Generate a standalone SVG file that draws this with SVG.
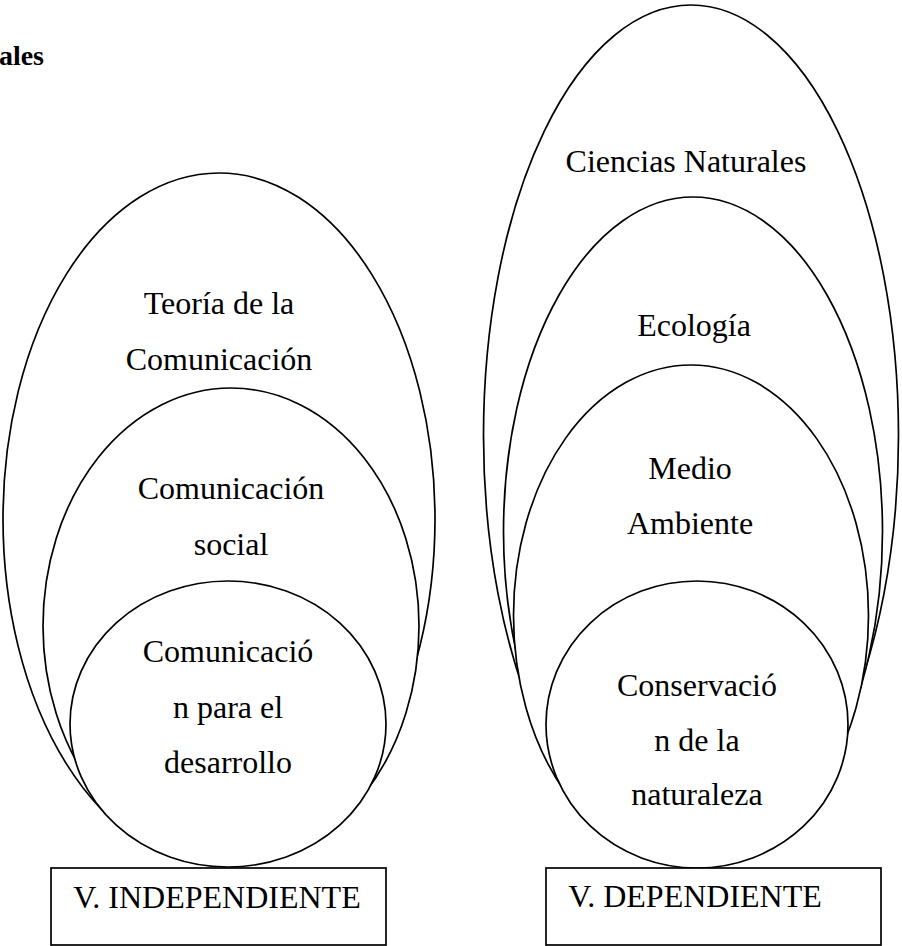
<svg xmlns="http://www.w3.org/2000/svg" width="902" height="946" viewBox="0 0 902 946">
<style>
.sh{fill:#fff;stroke:#000;stroke-width:1.7}
.t{font-family:"Liberation Serif","Times New Roman",serif;font-size:32px;fill:#000;text-anchor:middle}
.b{font-family:"Liberation Serif","Times New Roman",serif;font-size:28px;font-weight:bold;fill:#000;text-anchor:end}
</style>
<rect width="902" height="946" fill="#fff"/>
<text class="b" x="44" y="65">ales</text>
<g id="teoria-comunicacion">
<ellipse class="sh" cx="219" cy="519" rx="216" ry="346"/>
<text class="t" x="219" y="314">Teoría de la</text>
<text class="t" x="219" y="370">Comunicación</text>
</g>
<g id="comunicacion-social">
<ellipse class="sh" cx="231" cy="626" rx="188" ry="238"/>
<text class="t" x="231" y="499">Comunicación</text>
<text class="t" x="231" y="555">social</text>
</g>
<g id="comunicacion-desarrollo">
<ellipse class="sh" cx="228" cy="724" rx="158" ry="143"/>
<text class="t" x="228" y="662">Comunicació</text>
<text class="t" x="228" y="718">n para el</text>
<text class="t" x="228" y="773">desarrollo</text>
</g>
<g id="v-independiente">
<rect class="sh" x="51" y="868" width="335" height="77"/>
<text class="t" x="217" y="908">V. INDEPENDIENTE</text>
</g>
<g id="ciencias-naturales">
<ellipse class="sh" cx="691" cy="435.5" rx="207.5" ry="430.5"/>
<text class="t" x="686" y="172">Ciencias Naturales</text>
</g>
<g id="ecologia">
<ellipse class="sh" cx="693" cy="531.5" rx="189.5" ry="334.5"/>
<text class="t" x="694" y="336">Ecología</text>
</g>
<g id="medio-ambiente">
<ellipse class="sh" cx="691" cy="615.5" rx="177.5" ry="250.5"/>
<text class="t" x="690" y="479">Medio</text>
<text class="t" x="690" y="534">Ambiente</text>
</g>
<g id="conservacion">
<ellipse class="sh" cx="697" cy="724.5" rx="151" ry="143.5"/>
<text class="t" x="697" y="696">Conservació</text>
<text class="t" x="697" y="751">n de la</text>
<text class="t" x="697" y="805">naturaleza</text>
</g>
<g id="v-dependiente">
<rect class="sh" x="546" y="868" width="335" height="77"/>
<text class="t" x="695" y="907">V. DEPENDIENTE</text>
</g>
<g id="connectors"></g>
</svg>
